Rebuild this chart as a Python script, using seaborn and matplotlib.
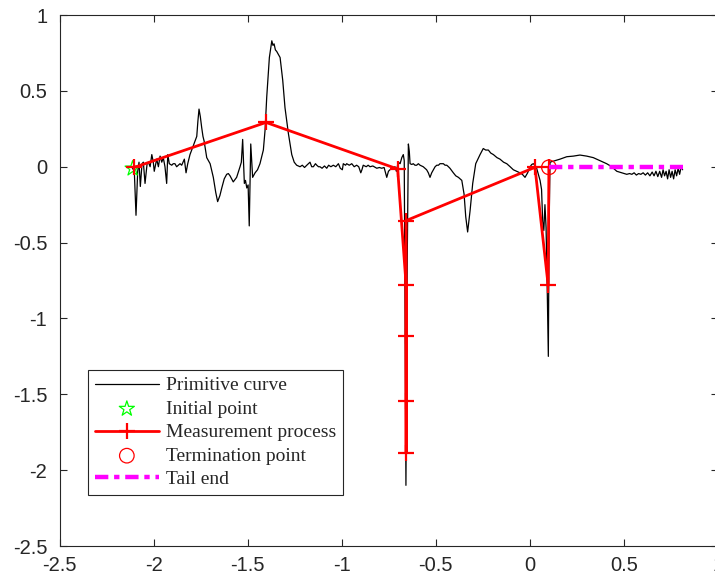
import numpy as np
import matplotlib
matplotlib.use('Agg')
import matplotlib.pyplot as plt
import seaborn as sns

# black primitive curve
curve_x = [-2.117, -2.103, -2.094, -2.085, -2.078, -2.071, -2.062, -2.055, -2.046, -2.035,
           -2.028, -2.019, -2.010, -2.002, -1.997, -1.984, -1.975, -1.966, -1.957, -1.949,
           -1.940, -1.931, -1.925, -1.917, -1.904, -1.896, -1.887, -1.878, -1.869, -1.860,
           -1.851, -1.837, -1.828, -1.819, -1.807, -1.789, -1.771, -1.765, -1.759, -1.752,
           -1.745, -1.738, -1.732, -1.718, -1.700, -1.683, -1.670, -1.660, -1.648, -1.638,
           -1.625, -1.612, -1.603, -1.594, -1.577, -1.559, -1.541, -1.534, -1.527, -1.518,
           -1.512, -1.505, -1.498, -1.492, -1.484, -1.474, -1.461, -1.448, -1.435, -1.417,
           -1.408, -1.399, -1.385, -1.372, -1.366, -1.360, -1.353, -1.346, -1.337, -1.328,
           -1.314, -1.302, -1.284, -1.266, -1.253, -1.240, -1.222,
           -1.210, -1.198, -1.186, -1.169, -1.160, -1.151, -1.140, -1.133, -1.124, -1.116,
           -1.105, -1.092, -1.080, -1.070, -1.058, -1.045, -1.032, -1.018, -1.008, -0.997,
           -0.992, -0.980, -0.974, -0.960, -0.947, -0.934, -0.921, -0.910, -0.899, -0.893,
           -0.886, -0.870, -0.860, -0.850, -0.835, -0.814, -0.800, -0.788, -0.775, -0.761,
           -0.752, -0.744, -0.730, -0.717, -0.710, -0.700, -0.690, -0.681, -0.673, -0.668,
           -0.659, -0.652, -0.646, -0.641, -0.637, -0.628, -0.620, -0.611, -0.602, -0.593,
           -0.584, -0.575, -0.567, -0.558, -0.549, -0.540, -0.531, -0.522, -0.513, -0.504,
           -0.495, -0.486, -0.478, -0.469, -0.460, -0.451, -0.442, -0.433, -0.425, -0.407,
           -0.394, -0.380, -0.362, -0.350, -0.341, -0.331, -0.318, -0.304, -0.288, -0.265,
           -0.248, -0.235, -0.221, -0.208, -0.194, -0.175, -0.159, -0.140, -0.123, -0.105,
           -0.088, -0.070, -0.053, -0.040, -0.026, -0.012, 0.001, 0.010, 0.018, 0.027,
           0.036, 0.045, 0.054, 0.062, 0.068, 0.074, 0.080, 0.086, 0.092, 0.098,
           0.102, 0.107, 0.120, 0.134, 0.160, 0.196, 0.231, 0.266, 0.302, 0.337,
           0.373, 0.408, 0.435, 0.462, 0.488, 0.515,
           0.530, 0.542, 0.554, 0.566, 0.578, 0.590, 0.602, 0.614, 0.626, 0.638,
           0.650, 0.660, 0.670, 0.680, 0.690, 0.700, 0.708, 0.716, 0.724, 0.732,
           0.740, 0.748, 0.756, 0.764, 0.772, 0.780, 0.788, 0.796, 0.804, 0.812]
curve_y = [0.00, -0.03, -0.32, -0.03, 0.03, -0.13, 0.02, 0.03, -0.11, 0.02,
           0.03, 0.00, 0.08, 0.03, -0.03, 0.05, 0.00, 0.07, 0.03, 0.06,
           0.00, -0.11, 0.08, 0.02, 0.01, 0.02, 0.02, 0.00, 0.01, 0.02,
           0.01, 0.05, -0.04, 0.02, 0.08, 0.14, 0.20, 0.30, 0.38, 0.33,
           0.26, 0.20, 0.17, 0.06, 0.02, -0.07, -0.17, -0.23, -0.19, -0.14,
           -0.08, -0.05, -0.045, -0.06, -0.10, -0.07, 0.00, 0.03, 0.18, -0.11,
           -0.09, -0.14, -0.12, -0.39, 0.15, -0.07, -0.04, -0.02, 0.02, 0.11,
           0.24, 0.46, 0.72, 0.83, 0.80, 0.81, 0.77, 0.76, 0.74, 0.72,
           0.57, 0.39, 0.22, 0.08, 0.03, 0.01, 0.00,
           0.01, -0.005, 0.01, 0.03, 0.00, 0.00, 0.02, 0.01, 0.00, 0.00,
           -0.01, 0.005, -0.01, 0.01, 0.00, 0.01, 0.00, 0.02, -0.01, -0.02,
           0.02, 0.01, 0.02, 0.01, 0.02, 0.00, 0.01, 0.00, -0.04, -0.02,
           0.01, 0.00, 0.01, 0.00, 0.005, -0.01, -0.005, -0.01, -0.005, -0.07,
           -0.03, -0.02, -0.01, 0.00, -0.03, 0.03, 0.02, 0.06, 0.08, 0.04,
           -2.10, -0.60, 0.15, 0.10, 0.02, 0.015, 0.02, 0.01, 0.01, 0.02,
           0.01, 0.005, 0.00, -0.01, -0.02, -0.04, -0.07, -0.04, -0.02, 0.00,
           0.01, 0.01, 0.02, 0.02, 0.02, 0.01, 0.01, 0.00, -0.01, -0.04,
           -0.06, -0.07, -0.09, -0.18, -0.33, -0.43, -0.29, -0.11, 0.02, 0.08,
           0.12, 0.11, 0.11, 0.09, 0.08, 0.06, 0.05, 0.03, 0.02, 0.00,
           -0.02, -0.03, -0.04, -0.05, -0.07, -0.04, 0.00, 0.015, 0.02, 0.01,
           -0.01, -0.05, -0.09, -0.15, -0.36, -0.42, -0.25, -0.40, -0.80, -1.25,
           -0.40, 0.03, 0.035, 0.04, 0.05, 0.066, 0.07, 0.077, 0.07, 0.06,
           0.04, 0.02, 0.00, -0.03, -0.04, -0.05,
           -0.045, -0.05, -0.04, -0.055, -0.045, -0.05, -0.04, -0.055, -0.04, -0.06,
           -0.035, -0.06, -0.03, -0.065, -0.03, -0.07, -0.02, -0.06, -0.03, -0.08,
           -0.02, -0.07, -0.03, -0.08, -0.02, -0.06, -0.01, -0.05, 0.00, -0.02]

# measurement process path
meas_x = [-2.105, -1.403, -0.703, -0.658, -0.658, -0.658, -0.658, -0.658, 0.027, 0.097, 0.101]
meas_y = [-0.005, 0.292, -0.015, -0.78, -1.115, -1.545, -1.885, -0.355, -0.004, -0.78, -0.004]

init_x = [-2.112]
init_y = [-0.012]
term_x = [0.101]
term_y = [-0.004]
tail_x = [0.101, 0.812]
tail_y = [0.0, 0.0]

xtick_vals = [-2.5, -2, -1.5, -1, -0.5, 0, 0.5, 1]
xtick_labels = ['-2.5', '-2', '-1.5', '-1', '-0.5', '0', '0.5', '1']
ytick_vals = [-2.5, -2, -1.5, -1, -0.5, 0, 0.5, 1]
ytick_labels = ['-2.5', '-2', '-1.5', '-1', '-0.5', '0', '0.5', '1']

sns.set_style('ticks')
plt.rcParams['font.family'] = ['Liberation Sans', 'DejaVu Sans']

fig = plt.figure(figsize=(7.15, 5.8), dpi=100)
ax = fig.add_axes([0.0834, 0.0586, 0.9208, 0.9155])

sns.lineplot(x=curve_x, y=curve_y, sort=False, estimator=None, color='black',
             linewidth=0.9, label='Primitive curve', ax=ax)
sns.scatterplot(x=init_x, y=init_y, marker='*', s=130, facecolors='none',
                edgecolors='#00ff00', linewidths=0.9, label='Initial point', ax=ax, zorder=3)
sns.lineplot(x=meas_x, y=meas_y, sort=False, estimator=None, color='red',
             linewidth=2, marker='+', markersize=11, markeredgewidth=1.6,
             markeredgecolor='red', markerfacecolor='red',
             label='Measurement process', ax=ax, zorder=4)
sns.scatterplot(x=term_x, y=term_y, marker='o', s=110, facecolors='none',
                edgecolors='red', linewidths=0.9, label='Termination point', ax=ax, zorder=5)
sns.lineplot(x=tail_x, y=tail_y, sort=False, estimator=None, color='magenta',
             linewidth=3.2, label='Tail end', ax=ax, zorder=5)
ax.lines[-1].set_dashes([3.0, 1.3, 1.2, 1.3])

ax.set_xlim(-2.5, 1)
ax.set_ylim(-2.5, 1)
ax.set_xticks(xtick_vals)
ax.set_xticklabels(xtick_labels)
ax.set_yticks(ytick_vals)
ax.set_yticklabels(ytick_labels)
ax.tick_params(direction='in', length=5, width=0.8, top=True, right=True,
               labelsize=14.5, color='#262626', labelcolor='#262626', pad=7)
ax.tick_params(axis='y', pad=9)
for sp in ax.spines.values():
    sp.set_visible(True)
    sp.set_color('#262626')
    sp.set_linewidth(0.8)
ax.set_xlabel('')
ax.set_ylabel('')

leg = ax.legend(loc='lower left', bbox_to_anchor=(0.043, 0.096), borderaxespad=0,
                prop={'family': 'Liberation Serif', 'size': 14}, handlelength=3.3,
                handletextpad=0.35, labelspacing=0.3, borderpad=0.35,
                fancybox=False, framealpha=1, edgecolor='#262626')
leg.get_frame().set_linewidth(0.8)

fig.savefig('out.png', dpi=100)
